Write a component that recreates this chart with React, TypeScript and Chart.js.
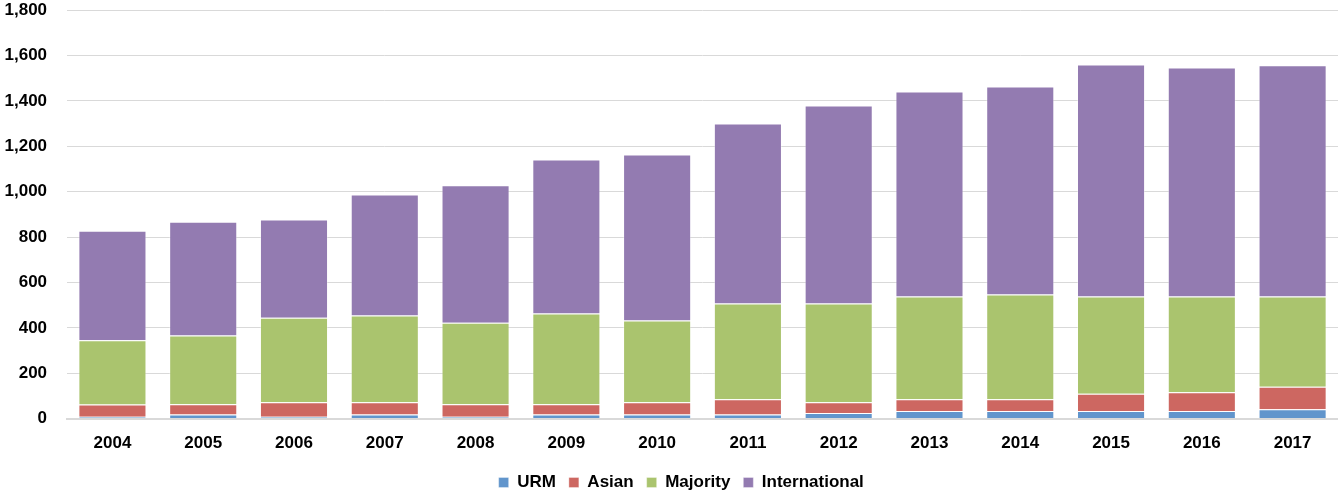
import React, { useEffect, useRef } from "react";
import { Chart, registerables } from "chart.js";

Chart.register(...registerables);

const years = ["2004","2005","2006","2007","2008","2009","2010","2011","2012","2013","2014","2015","2016","2017"];
const urm = [8, 18, 8, 18, 8, 18, 18, 18, 25, 34, 34, 34, 34, 41];
const asian = [54, 45, 64, 54, 55, 45, 54, 67, 47, 51, 51, 75, 82, 99];
const majority = [283, 303, 373, 382, 360, 400, 360, 422, 435, 453, 462, 429, 422, 398];
const international = [483, 502, 432, 534, 605, 679, 732, 794, 873, 904, 917, 1023, 1010, 1019];

const shiftLegend = {
  id: "shiftLegend",
  afterLayout(chart: any) {
    if (chart.legend) {
      chart.legend.left += 20;
    }
  },
};

export default function App() {
  const ref = useRef<HTMLCanvasElement>(null);
  useEffect(() => {
    document.body.style.margin = "0";
    const font = { family: "'Liberation Sans', Arial, sans-serif", size: 17, weight: "bold" as const };
    const border = "rgba(255,255,255,0.35)";
    const chart = new Chart(ref.current!, {
      type: "bar",
      data: {
        labels: years,
        datasets: [
          { label: "URM", data: urm, backgroundColor: "#6195cc", borderColor: border, borderWidth: 1 },
          { label: "Asian", data: asian, backgroundColor: "#cd6761", borderColor: border, borderWidth: 1 },
          { label: "Majority", data: majority, backgroundColor: "#aac46e", borderColor: border, borderWidth: 1 },
          { label: "International", data: international, backgroundColor: "#937bb1", borderColor: border, borderWidth: 1 },
        ],
      },
      plugins: [shiftLegend],
      options: {
        responsive: false,
        animation: false,
        layout: { padding: { top: 0, right: 0, left: 4.5, bottom: -10 } },
        datasets: { bar: { categoryPercentage: 1, barPercentage: 0.75 } },
        plugins: {
          legend: {
            position: "bottom",
            labels: { boxWidth: 10, boxHeight: 10, color: "#000", font, padding: 13, useBorderRadius: false },
          },
          tooltip: { enabled: false },
        },
        scales: {
          x: {
            stacked: true,
            grid: { display: false },
            border: { color: "#d9d9d9", width: 2 },
            ticks: { color: "#000", font, padding: 7 },
          },
          y: {
            stacked: true,
            min: 0,
            max: 1800,
            grid: { color: "#d9d9d9", drawTicks: true, tickLength: 20, tickColor: "rgba(0,0,0,0)" },
            border: { display: false },
            ticks: {
              stepSize: 200,
              color: "#000",
              font,
              padding: 0,
              callback: (v: any) => Number(v).toLocaleString("en-US"),
            },
          },
        },
      },
    });
    return () => chart.destroy();
  }, []);
  return (
    <div style={{ width: 1338, height: 491 }}>
      <canvas ref={ref} width={1338} height={491} />
    </div>
  );
}
